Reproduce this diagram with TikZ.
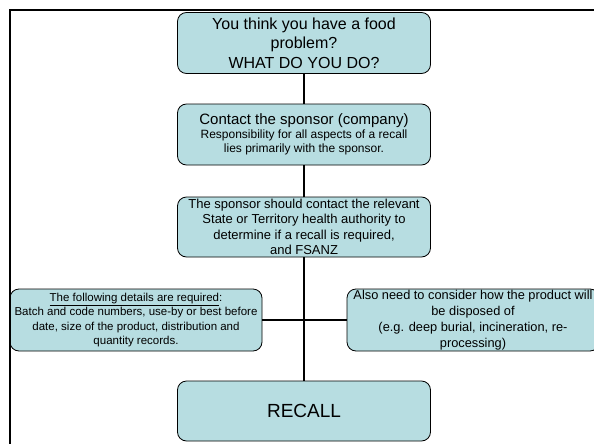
\documentclass[tikz,border=0pt]{standalone}
\usepackage{fontspec}
\setmainfont{Liberation Sans}
\definecolor{boxfill}{HTML}{B7DDE1}

\begin{document}
\begin{tikzpicture}[x=1pt,y=-1pt]
\tikzset{
  flownode/.style={rectangle,draw=black,line width=0.8pt,rounded corners=9pt,fill=boxfill,minimum width=253pt,minimum height=61pt,inner sep=0pt,align=center,text=black},
  flowedge/.style={draw=black,line width=1.4pt},
  frameline/.style={draw=black,line width=2.4pt}
}
\clip (0,0) rectangle (594,444);
\node[flownode,font=\fontsize{16}{19.5}\selectfont] (n_q) at (304,43) {You think you have a food\\problem?\\WHAT DO YOU DO?};
\node[flownode,font=\fontsize{12}{14}\selectfont] (n_sponsor) at (304,134.5) {{\fontsize{15}{17}\selectfont Contact the sponsor (company)}\\Responsibility for all aspects of a recall\\lies primarily with the sponsor.};
\node[flownode,minimum height=60pt,font=\fontsize{13}{15.5}\selectfont] (n_auth) at (304,227) {The sponsor should contact the relevant\\State or Territory health authority to\\determine if a recall is required,\\and FSANZ};
\node[flownode,minimum width=252pt,minimum height=62pt,font=\fontsize{11.5}{14.3}\selectfont] (n_details) at (136,320) {\underline{The following details are required}:\\Batch and code numbers, use-by or best before\\date, size of the product, distribution and\\quantity records.};
\node[flownode,minimum width=252pt,minimum height=62pt,font=\fontsize{12.8}{16}\selectfont] (n_disposal) at (473,320) {Also need to consider how the product will\\be disposed of\\(e.g. deep burial, incineration, re-\\processing)};
\node[flownode,minimum height=60pt,font=\fontsize{19}{22}\selectfont] (n_recall) at (304,411) {RECALL};
\draw[flowedge] (n_q) -- (n_sponsor);
\draw[flowedge] (n_sponsor) -- (n_auth);
\draw[flowedge] (n_auth) -- (n_recall);
\draw[flowedge] (n_details) -- (n_disposal);
\draw[frameline] (10,444) -- (10,10) -- (594,10);
\end{tikzpicture}
\end{document}
